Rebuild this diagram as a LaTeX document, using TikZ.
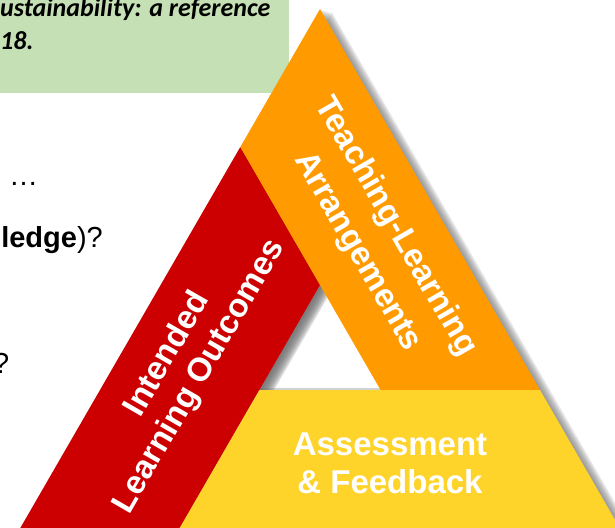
\documentclass[tikz,border=0pt]{standalone}
\usepackage{fontspec}
\setmainfont{Liberation Sans}
\newfontfamily\carlito{Carlito}
\definecolor{boxgreen}{HTML}{C5E0B4}
\definecolor{tred}{HTML}{CC0000}
\definecolor{torange}{HTML}{FF9A00}
\definecolor{tyellow}{HTML}{FED32A}
\definecolor{shadowgray}{HTML}{6A6A6A}
\begin{document}
\begin{tikzpicture}[x=1pt,y=-1pt,
  bandtext/.style={text=white,font=\bfseries\fontsize{33}{40}\selectfont,anchor=base,inner sep=0pt},
  sidetext/.style={text=black,font=\fontsize{29}{34}\selectfont,inner sep=0pt},
  reftext/.style={text=black,font=\carlito\bfseries\itshape\fontsize{26}{30}\selectfont,anchor=base west,inner sep=0pt}]
\useasboundingbox (0,0) rectangle (615,527);
\clip (0,0) rectangle (615,527);
% key points
\coordinate (apex) at (320,9);
\coordinate (bl) at (20.3,528);
\coordinate (br) at (619.7,528);
\coordinate (ha) at (320,285);
\coordinate (hl) at (259.4,390);
\coordinate (hr) at (380.6,390);
\coordinate (ol) at (240.3,147);
\coordinate (ob) at (540.0,390);
\coordinate (rb) at (179.7,528);
% green reference box
\fill[boxgreen] (-5,-5) rectangle (289,93);
\node[reftext] (ref1) at (0,17) {ustainability: a reference};
\node[reftext] (ref2) at (0,50) {18.};
% left text fragments
\node[sidetext,anchor=base west] (dots) at (9,185) {…};
\node[sidetext,anchor=base east] (know) at (103,247) {\textbf{ledge})?};
\node[sidetext,anchor=base east] (q2) at (9.5,373) {?};
% soft shadow, offset right and slightly down
\foreach \d in {2,4,6,8,10,12}{
  \begin{scope}[transform canvas={shift={(\d,0.3*\d)}}]
  \fill[shadowgray,opacity=0.16,even odd rule]
    (apex) -- (br) -- (bl) -- cycle (ha) -- (hr) -- (hl) -- cycle;
  \end{scope}
}
% shadow inside the hole along the red band
\begin{scope}
  \clip (ha) -- (hr) -- (hl) -- cycle;
  \foreach \d in {3,5,7,9,11,13,15}{
    \fill[shadowgray,opacity=0.13]
      (330,267.7) -- (330+\d,267.7) -- (249.4+\d,407.3) -- (249.4,407.3) -- cycle;
  }
  \draw[shadowgray,opacity=0.3,line width=1.5pt] (250,389.2) -- (390,389.2);
\end{scope}
% bands
\fill[tred] (ol) -- (ha) -- (rb) -- (bl) -- cycle;
\fill[torange] (apex) -- (ob) -- (hr) -- (ha) -- (ol) -- cycle;
\fill[tyellow] (hl) -- (ob) -- (br) -- (rb) -- cycle;
% band labels
\node[bandtext,rotate=-60] (tl1) at (388,231) {Teaching-Learning};
\node[bandtext,rotate=-60] (tl2) at (350,256) {Arrangements};
\node[bandtext,rotate=60] (il1) at (175,359) {Intended};
\node[bandtext,rotate=60] (il2) at (207,381) {Learning Outcomes};
\node[bandtext] (af1) at (390,455) {Assessment};
\node[bandtext] (af2) at (390,493) {\& Feedback};
\end{tikzpicture}
\end{document}
